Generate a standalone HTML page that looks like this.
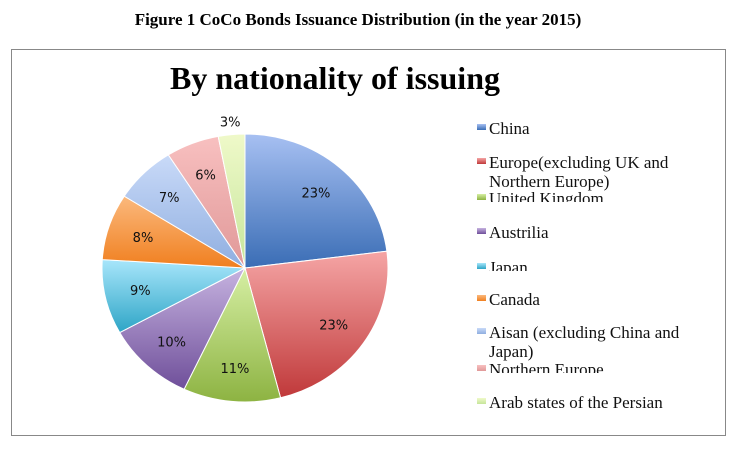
<!DOCTYPE html>
<html><head><meta charset="utf-8"><style>
body{margin:0;background:#fff;width:738px;height:449px;position:relative;overflow:hidden}
.cap{position:absolute;left:0;width:716px;top:10px;text-align:center;font:bold 17px "Liberation Serif",serif}
.box{position:absolute;left:11px;top:49px;width:715px;height:387px;border:1px solid #888;box-sizing:border-box}
.lg{position:absolute;left:477px;font:17px "Liberation Serif",serif;color:#111;line-height:19px}
.sw{position:absolute;left:0;top:5px;width:9px;height:6px}
.lt{position:absolute;left:12px;top:0;overflow:hidden}
</style></head><body>
<div class="cap">Figure 1 CoCo Bonds Issuance Distribution (in the year 2015)</div>
<div class="box"></div>
<svg width="738" height="449" style="position:absolute;left:0;top:0">
<text x="170" y="89" textLength="330" lengthAdjust="spacingAndGlyphs" font-family="Liberation Serif, serif" font-weight="bold" font-size="32">By nationality of issuing</text>
<g id="pie"></g>
</svg>
<div id="legend"></div>
<script>
const categories=["China","Europe(excluding UK and Northern Europe)","United Kingdom","Austrilia","Japan","Canada","Aisan (excluding China and Japan)","Northern Europe","Arab states of the Persian"];
const values=[23,23,11,10,9,8,7,6,3];
const labels=["23%","23%","11%","10%","9%","8%","7%","6%","3%"];
const colors=[["#a7c0f2","#3a6db5"],["#f5a5a5","#c0393a"],["#d6efa4","#8db342"],["#c6b3e0","#6f4f9a"],["#a8e6fb","#2ea5c6"],["#fbb97d","#f07f1f"],["#c9daf8","#8faee0"],["#f8c0c0","#e09898"],["#eff9c9","#c6e59b"]];
const cx=245,cy=268,rx=143,ry=134;
const ns="http://www.w3.org/2000/svg";
const svg=document.querySelector("svg"),g=document.getElementById("pie");
const total=values.reduce((a,b)=>a+b,0);
const defs=document.createElementNS(ns,"defs");svg.prepend(defs);
function pt(a,k){return [cx+rx*k*Math.sin(a),cy-ry*k*Math.cos(a)];}
let acc=0;
values.forEach((v,i)=>{
 const a0=acc/total*2*Math.PI;acc+=v;const a1=acc/total*2*Math.PI;
 const gr=document.createElementNS(ns,"linearGradient");
 gr.id="g"+i;gr.setAttribute("x1","0");gr.setAttribute("y1","0");gr.setAttribute("x2","0");gr.setAttribute("y2","1");
 gr.innerHTML=`<stop offset="0" stop-color="${colors[i][0]}"/><stop offset="1" stop-color="${colors[i][1]}"/>`;
 defs.appendChild(gr);
 const p0=pt(a0,1),p1=pt(a1,1);
 const path=document.createElementNS(ns,"path");
 path.setAttribute("d",`M${cx},${cy}L${p0[0]},${p0[1]}A${rx},${ry} 0 ${a1-a0>Math.PI?1:0} 1 ${p1[0]},${p1[1]}Z`);
 path.setAttribute("fill",`url(#g${i})`);path.setAttribute("stroke","#fff");path.setAttribute("stroke-width","1");
 
 
 g.appendChild(path);
 const am=(a0+a1)/2;const k=i===8?1.1:0.75;const lp=pt(am,k);
 const t=document.createElementNS(ns,"text");
 t.setAttribute("x",lp[0]);t.setAttribute("y",lp[1]+5);t.setAttribute("text-anchor","middle");
 t.setAttribute("font-family","DejaVu Sans, sans-serif");t.setAttribute("font-size","13");t.setAttribute("fill","#111");
 t.textContent=labels[i];
 
 
 svg.appendChild(t);
});
const tops=[119,153,189,223,258,290,323,360,393];
const clipH=[20,40,13,22,13,20,40,13,20];
const lg=document.getElementById("legend");
categories.forEach((c,i)=>{
 const d=document.createElement("div");d.className="lg";d.style.top=tops[i]+"px";
 
 
 d.innerHTML=`<div class="sw" style="background:linear-gradient(${colors[i][0]},${colors[i][1]})"></div><div class="lt" style="height:${clipH[i]}px;width:${i==1||i==6?200:230}px;white-space:${i==1||i==6?'normal':'nowrap'}">${c}</div>`;
 lg.appendChild(d);
});
</script>
</body></html>
